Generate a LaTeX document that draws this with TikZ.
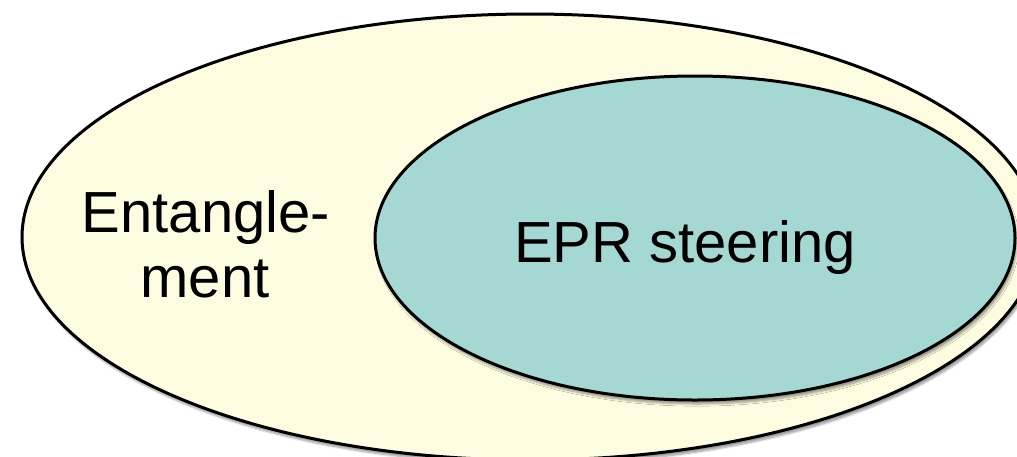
\documentclass[tikz,border=0pt]{standalone}
\usepackage{fontspec}
\setmainfont{Liberation Sans}
\usetikzlibrary{shapes.geometric,shadows.blur}
\definecolor{outerfill}{HTML}{FDFCE0}
\definecolor{innerfill}{HTML}{A5D7D3}
\tikzset{
  setshape/.style={ellipse, draw=black, line width=3pt, inner sep=0pt,
    blur shadow={shadow xshift=2pt, shadow yshift=-4pt, shadow blur steps=6, shadow opacity=40}},
  label58/.style={font=\fontsize{58}{65}\selectfont, inner sep=0pt, anchor=base}
}
\begin{document}
\begin{tikzpicture}[x=1pt,y=-1pt]
\useasboundingbox (0,0) rectangle (1017,456);
\clip (0,0) rectangle (1017,456);
\node[setshape, fill=outerfill, minimum width=1016pt, minimum height=446pt] (ent) at (530,237) {};
\node[setshape, fill=innerfill, minimum width=640pt, minimum height=324pt] (epr) at (695,238) {};
\node[label58] (entA) at (206,232) {Entangle-};
\node[label58] (entB) at (205,297) {ment};
\node[label58] (eprtext) at (685,262) {EPR steering};
\end{tikzpicture}
\end{document}
